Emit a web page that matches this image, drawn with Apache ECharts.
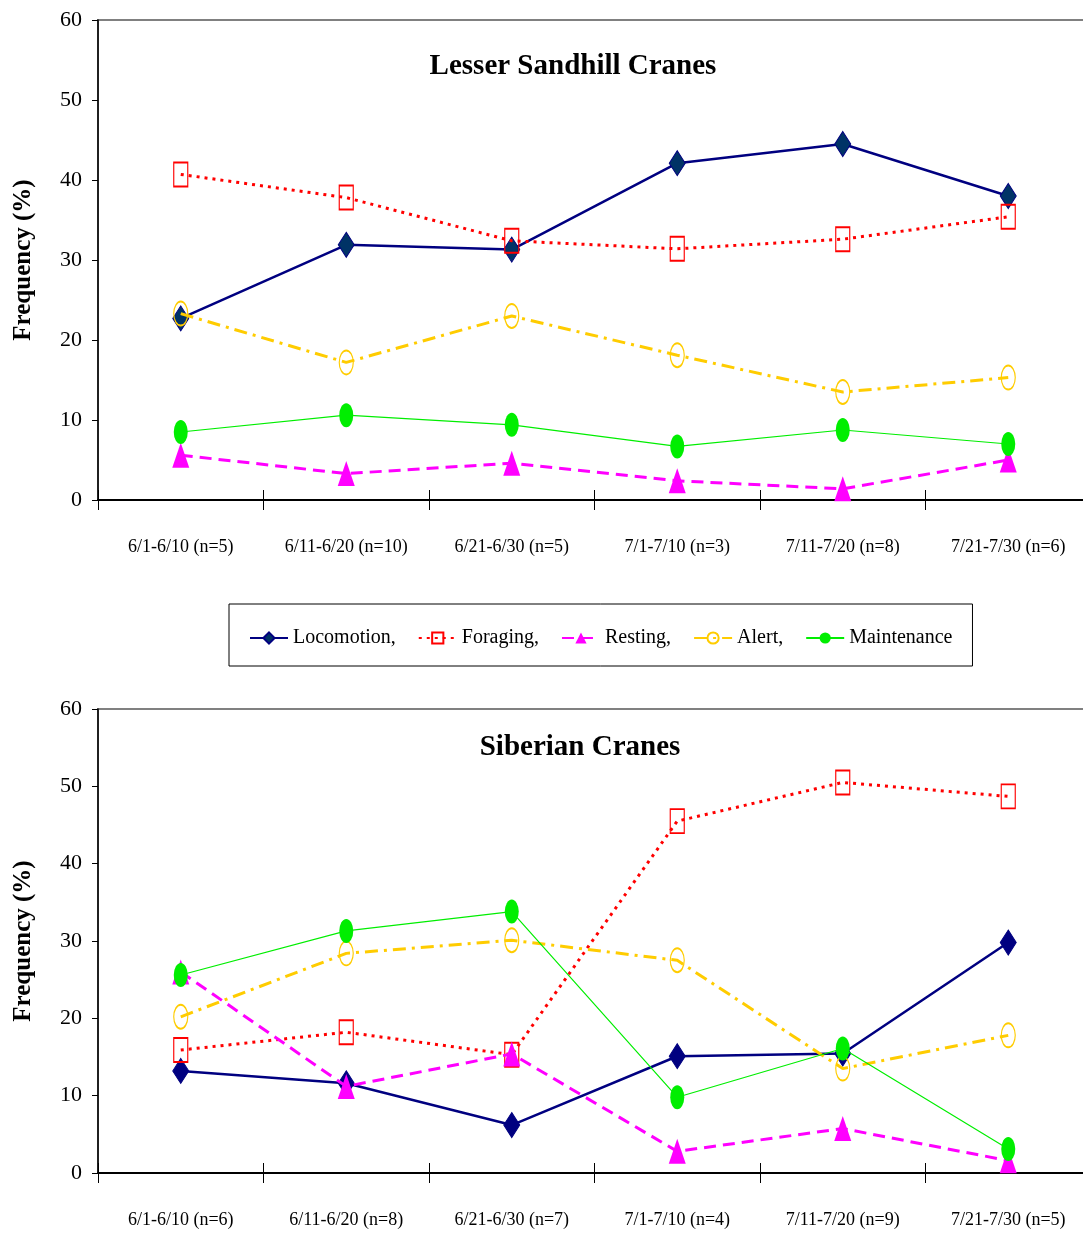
<!DOCTYPE html>
<html><head><meta charset="utf-8">
<script src="https://cdn.jsdelivr.net/npm/echarts@6/dist/echarts.min.js"></script>
<style>html,body{margin:0;padding:0;background:#fff}#c{width:1083px;height:1236px}</style>
</head><body><div id="c"></div>
<script>
const seriesNames = ['Locomotion', 'Foraging', 'Resting', 'Alert', 'Maintenance'];
const lesserCategories = ['6/1-6/10 (n=5)', '6/11-6/20 (n=10)', '6/21-6/30 (n=5)', '7/1-7/10 (n=3)', '7/11-7/20 (n=8)', '7/21-7/30 (n=6)'];
const siberianCategories = ['6/1-6/10 (n=6)', '6/11-6/20 (n=8)', '6/21-6/30 (n=7)', '7/1-7/10 (n=4)', '7/11-7/20 (n=9)', '7/21-7/30 (n=5)'];
const yTickMin = 0, yTickMax = 60, yTickStep = 10;

const lesserLocomotion = [22.7, 31.9, 31.3, 42.1, 44.5, 38.0];
const lesserForaging = [40.7, 37.8, 32.4, 31.4, 32.6, 35.4];
const lesserResting = [5.6, 3.3, 4.6, 2.4, 1.4, 5.0];
const lesserAlert = [23.3, 17.2, 23.0, 18.1, 13.5, 15.3];
const lesserMaintenance = [8.5, 10.6, 9.4, 6.7, 8.75, 7.0];

const siberianLocomotion = [13.2, 11.6, 6.2, 15.1, 15.45, 29.8];
const siberianForaging = [15.9, 18.2, 15.3, 45.5, 50.5, 48.7];
const siberianResting = [26.0, 11.2, 15.4, 2.8, 5.75, 1.6];
const siberianAlert = [20.2, 28.4, 30.1, 27.5, 13.5, 17.8];
const siberianMaintenance = [25.6, 31.3, 33.8, 9.8, 16.1, 3.1];

const FONT = '"Liberation Serif", "Times New Roman", serif';

function styleFor(name, chart) {
  switch (name) {
    case 'Locomotion': return {
      symbol: 'diamond', symbolSize: [16, 25],
      itemStyle: { color: chart === 0 ? '#003366' : '#000080', borderColor: '#000080', borderWidth: 1 },
      lineStyle: { color: '#000080', width: 2.5, type: 'solid' }
    };
    case 'Foraging': return {
      symbol: 'rect', symbolSize: [14, 24],
      itemStyle: { color: 'rgba(255,255,255,0)', borderColor: '#ff0000', borderWidth: 1.5 },
      lineStyle: { color: '#ff0000', width: 3, type: [3, 5] }
    };
    case 'Resting': return {
      symbol: 'triangle', symbolSize: [17, 25],
      itemStyle: { color: '#ff00ff' },
      lineStyle: { color: '#ff00ff', width: 3, type: [12, 7] }
    };
    case 'Alert': return {
      symbol: 'circle', symbolSize: [14, 24],
      itemStyle: { color: 'rgba(255,255,255,0)', borderColor: '#ffcc00', borderWidth: 1.5 },
      lineStyle: { color: '#ffcc00', width: 3, type: [13, 6, 3, 6] }
    };
    default: return {
      symbol: 'circle', symbolSize: [14, 24],
      itemStyle: { color: '#00ee00' },
      lineStyle: { color: '#00ee00', width: 1.2, type: 'solid' }
    };
  }
}

const lesserData = [lesserLocomotion, lesserForaging, lesserResting, lesserAlert, lesserMaintenance];
const siberianData = [siberianLocomotion, siberianForaging, siberianResting, siberianAlert, siberianMaintenance];

const series = [];
[lesserData, siberianData].forEach((set, g) => {
  set.forEach((vals, i) => {
    const s = styleFor(seriesNames[i], g);
    series.push(Object.assign({
      type: 'line', name: seriesNames[i], data: vals,
      xAxisIndex: g * 2, yAxisIndex: g,
      showAllSymbol: true, animation: false, z: 2 + i
    }, s));
  });
});

function makeX(g, cats) {
  return [
    {
      gridIndex: g, type: 'category', data: cats, boundaryGap: true, position: 'bottom',
      axisLine: { lineStyle: { color: '#000', width: 2 } },
      axisTick: { show: true, length: 10, lineStyle: { color: '#000', width: 1 } },
      axisLabel: { margin: 38, fontFamily: FONT, fontSize: 18, color: '#000' },
      splitLine: { show: false }
    },
    {
      gridIndex: g, type: 'category', data: cats, boundaryGap: true, position: 'bottom',
      axisLine: { show: false },
      axisTick: { show: true, inside: true, length: 10, lineStyle: { color: '#000', width: 1 } },
      axisLabel: { show: false },
      splitLine: { show: false }
    }
  ];
}

function makeY(g) {
  return {
    gridIndex: g, type: 'value', min: yTickMin, max: yTickMax, interval: yTickStep,
    axisLine: { show: true, lineStyle: { color: '#000', width: 1.5 } },
    axisTick: { show: true, length: 6, lineStyle: { color: '#000', width: 1 } },
    splitLine: { show: false },
    axisLabel: { margin: 16, fontFamily: FONT, fontSize: 22, color: '#000' },
    name: 'Frequency (%)', nameLocation: 'middle', nameGap: 62,
    nameTextStyle: { fontFamily: FONT, fontWeight: 'bold', fontSize: 25, color: '#000' }
  };
}

const option = {
  backgroundColor: '#fff',
  animation: false,
  grid: [
    { left: 98, top: 20, height: 480, width: 993, outerBoundsMode: 'none', containLabel: false, show: true, borderColor: '#808080', borderWidth: 2, backgroundColor: 'rgba(0,0,0,0)' },
    { left: 98, top: 709, height: 464, width: 993, outerBoundsMode: 'none', containLabel: false, show: true, borderColor: '#808080', borderWidth: 2, backgroundColor: 'rgba(0,0,0,0)' }
  ],
  xAxis: makeX(0, lesserCategories).concat(makeX(1, siberianCategories)),
  yAxis: [makeY(0), makeY(1)],
  legend: {
    data: seriesNames,
    left: 229, top: 604,
    padding: [24, 20, 18, 20],
    borderColor: '#000', borderWidth: 1,
    itemGap: 22, itemWidth: 38, itemHeight: 14,
    textStyle: { fontFamily: FONT, fontSize: 20, color: '#000' },
    formatter: function (n) { return n === 'Maintenance' ? n : n + ','; }
  },
  graphic: [
    { type: 'text', x: 573, y: 67, z: 100,
      style: { text: 'Lesser Sandhill Cranes', align: 'center', verticalAlign: 'middle', fontFamily: FONT, fontWeight: 'bold', fontSize: 29, fill: '#000' } },
    { type: 'text', x: 580, y: 748, z: 100,
      style: { text: 'Siberian Cranes', align: 'center', verticalAlign: 'middle', fontFamily: FONT, fontWeight: 'bold', fontSize: 29, fill: '#000' } }
  ],
  series: series
};

const chart = echarts.init(document.getElementById('c'), null, { renderer: 'canvas' });
chart.setOption(option);
</script>
</body></html>
